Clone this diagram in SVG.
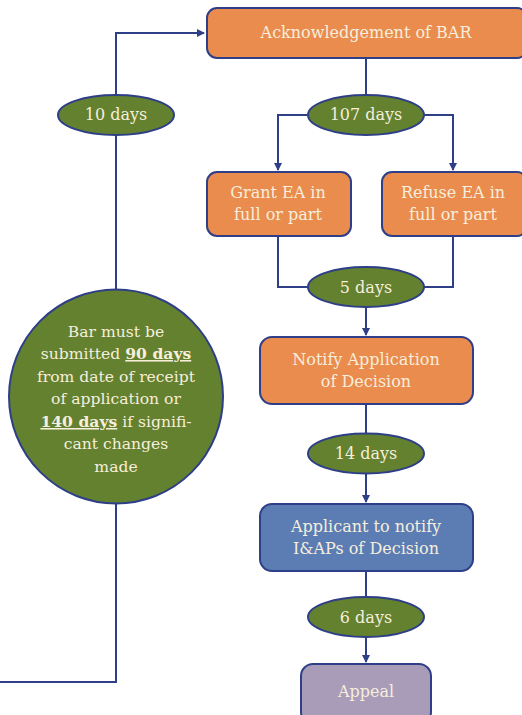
<svg xmlns="http://www.w3.org/2000/svg" width="522" height="715" viewBox="0 0 522 715">
<style>
.box{stroke:#2E3F87;stroke-width:2}
.or{fill:#E98C4E}
.bl{fill:#5B7DB4}
.pu{fill:#A99CB9}
.gr{fill:#63812F;stroke:#2E3F87;stroke-width:2}
.t{font-family:"DejaVu Serif","Liberation Serif",serif;font-size:16px;fill:#F7EEDC;text-anchor:middle}
.s{font-size:15.6px}
.c{fill:none;stroke:#2E3F87;stroke-width:2}
.b{font-weight:bold;text-decoration:underline}
</style>
<defs>
<marker id="ah" markerWidth="8" markerHeight="8" refX="7" refY="4" orient="auto" markerUnits="userSpaceOnUse">
<path d="M0,0 L8,4 L0,8 z" fill="#2E3F87"/>
</marker>
</defs>
<g id="connectors">
<path class="c" d="M116,95 V33 H204" marker-end="url(#ah)"/>
<path class="c" d="M116,135 V289"/>
<path class="c" d="M116,504 V682 H0"/>
<path class="c" d="M366,58 V95"/>
<path class="c" d="M308,115 H278 V170" marker-end="url(#ah)"/>
<path class="c" d="M424,115 H453 V170" marker-end="url(#ah)"/>
<path class="c" d="M278,236 V287 H308"/>
<path class="c" d="M453,236 V287 H424"/>
<path class="c" d="M366,307 V335" marker-end="url(#ah)"/>
<path class="c" d="M366,404 V433"/>
<path class="c" d="M366,474 V502" marker-end="url(#ah)"/>
<path class="c" d="M366,571 V597"/>
<path class="c" d="M366,637 V662" marker-end="url(#ah)"/>
</g>
<g id="ack">
<rect class="box or" x="207" y="8" width="320" height="50" rx="10"/>
<text class="t" x="366" y="38">Acknowledgement of BAR</text>
</g>
<g id="d10">
<ellipse class="gr" cx="116" cy="115" rx="58" ry="20"/>
<text class="t" x="116" y="120">10 days</text>
</g>
<g id="d107">
<ellipse class="gr" cx="366" cy="115" rx="58" ry="20"/>
<text class="t" x="366" y="120">107 days</text>
</g>
<g id="grant">
<rect class="box or" x="207" y="172" width="144" height="64" rx="10"/>
<text class="t" x="278" y="198">Grant EA in</text>
<text class="t" x="278" y="220">full or part</text>
</g>
<g id="refuse">
<rect class="box or" x="382" y="172" width="145" height="64" rx="10"/>
<text class="t" x="453" y="198">Refuse EA in</text>
<text class="t" x="453" y="220">full or part</text>
</g>
<g id="d5">
<ellipse class="gr" cx="366" cy="287" rx="58" ry="20"/>
<text class="t" x="366" y="293">5 days</text>
</g>
<g id="notify">
<rect class="box or" x="260" y="337" width="213" height="67" rx="12"/>
<text class="t" x="366" y="365">Notify Application</text>
<text class="t" x="366" y="387">of Decision</text>
</g>
<g id="d14">
<ellipse class="gr" cx="366" cy="453.5" rx="58" ry="20"/>
<text class="t" x="366" y="459">14 days</text>
</g>
<g id="applicant">
<rect class="box bl" x="260" y="504" width="213" height="67" rx="12"/>
<text class="t" x="366" y="532">Applicant to notify</text>
<text class="t" x="366" y="554">I&amp;APs of Decision</text>
</g>
<g id="d6">
<ellipse class="gr" cx="366" cy="617" rx="58" ry="20"/>
<text class="t" x="366" y="623">6 days</text>
</g>
<g id="appeal">
<rect class="box pu" x="301" y="664" width="130" height="60" rx="12"/>
<text class="t" x="366" y="697">Appeal</text>
</g>
<g id="bar">
<circle class="gr" cx="116" cy="396.5" r="107"/>
<text class="t s" x="116" y="337">Bar must be</text>
<text class="t s" x="116" y="359">submitted <tspan class="b">90 days</tspan></text>
<text class="t s" x="116" y="382">from date of receipt</text>
<text class="t s" x="116" y="404">of application or</text>
<text class="t s" x="116" y="427"><tspan class="b">140 days</tspan> if signifi-</text>
<text class="t s" x="116" y="449">cant changes</text>
<text class="t s" x="116" y="472">made</text>
</g>
</svg>
